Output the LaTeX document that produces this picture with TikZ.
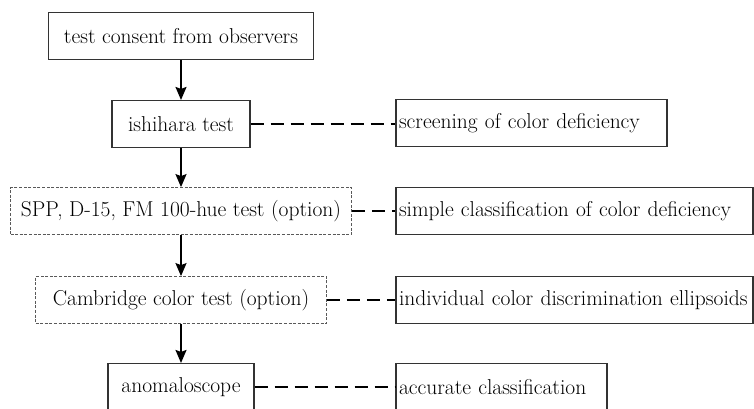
\documentclass[tikz,border=0pt]{standalone}
\usepackage{fontspec}
\usetikzlibrary{arrows.meta}

\begin{document}
\begin{tikzpicture}[x=1pt,y=-1pt,
        font=\fontsize{21.5}{25}\selectfont,
        stage/.style={draw=black!80,line width=1.1pt,inner sep=0pt,minimum height=47pt},
        optstage/.style={draw=black!65,line width=0.8pt,dash pattern=on 3pt off 1.6pt,inner sep=0pt,minimum height=47pt},
        result/.style={draw=black!80,line width=1.1pt,inner sep=0pt,minimum height=47pt,align=left,text width=#1-6pt},
        flow/.style={-{Stealth[length=13pt,width=11pt,inset=2pt]},line width=1.8pt},
        link/.style={line width=2pt,dash pattern=on 13pt off 7pt}]
        \clip (0,0) rectangle (754,408);
        \node[stage,minimum width=265pt] (consent) at (181,36) {test consent from observers};
        \node[stage,minimum width=138pt] (ishihara) at (181,124) {ishihara test};
        \node[optstage,minimum width=341pt] (spp) at (181,211) {SPP, D-15, FM 100-hue test (option)};
        \node[optstage,minimum width=291pt] (cambridge) at (181,300) {Cambridge color test (option)};
        \node[stage,minimum width=146pt] (anomaloscope) at (181,387) {anomaloscope};
        \node[result=271pt,minimum width=271pt] (screening) at (531.5,123) {screening of color deficiency};
        \node[result=357pt,minimum width=357pt] (simple) at (574.5,211) {simple classification of color deficiency};
        \node[result=357pt,minimum width=357pt] (ellipsoids) at (574.5,300) {individual color discrimination ellipsoids};
        \node[result=211pt,minimum width=211pt] (accurate) at (501.5,387) {accurate classification};
        \draw[flow] (consent) -- (ishihara);
        \draw[flow] (ishihara) -- (spp);
        \draw[flow] (spp) -- (cambridge);
        \draw[flow] (cambridge) -- (anomaloscope);
        \draw[link] (ishihara.east) -- (ishihara.east -| screening.west);
        \draw[link] (spp.east) -- (spp.east -| simple.west);
        \draw[link] (cambridge.east) -- (cambridge.east -| ellipsoids.west);
        \draw[link] (anomaloscope.east) -- (anomaloscope.east -| accurate.west);
\end{tikzpicture}
\end{document}
